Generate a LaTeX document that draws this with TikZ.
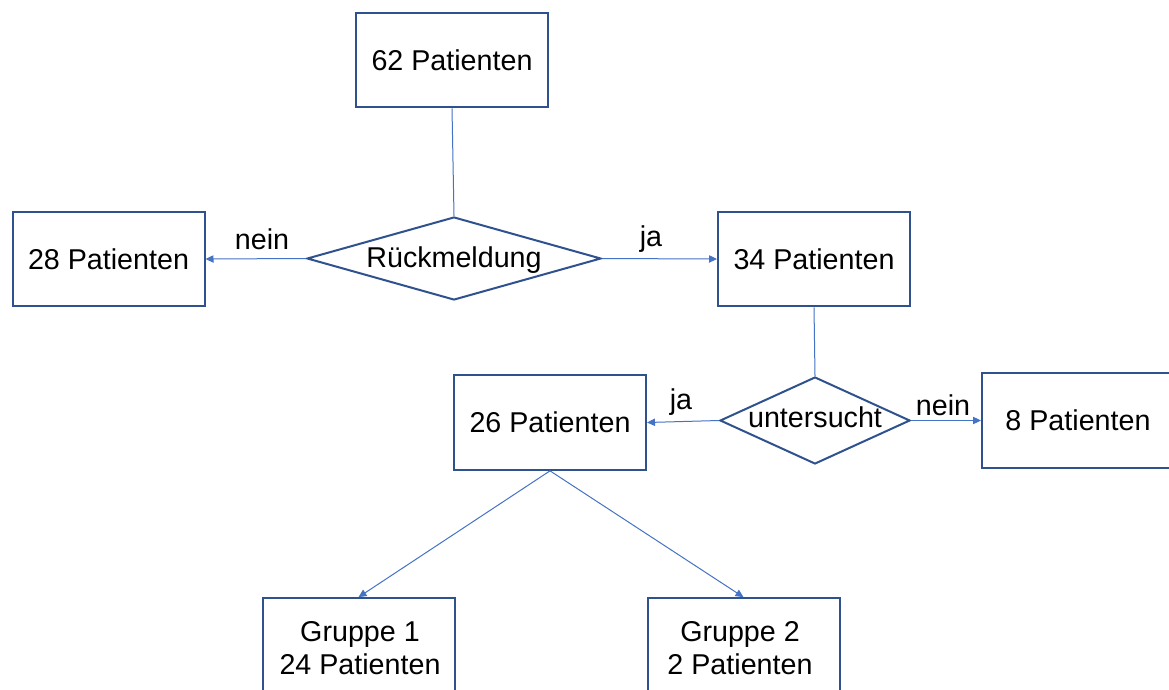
\documentclass[tikz,border=0pt]{standalone}
\usepackage{fontspec}
\setmainfont{Liberation Sans}
\usetikzlibrary{shapes.geometric,arrows.meta}
\definecolor{boxblue}{HTML}{2F528F}
\definecolor{linkblue}{HTML}{4472C4}
\begin{document}
\begin{tikzpicture}[x=0.75pt,y=-0.75pt,
  every node/.style={font=\fontsize{21.5}{24.75}\selectfont, text=black},
  box/.style={draw=boxblue, line width=1.5pt, fill=white, minimum width=144pt, minimum height=71pt, inner sep=0pt, align=center},
  choice/.style={draw=boxblue, line width=1.5pt, fill=white, diamond, inner sep=0pt},
  link/.style={draw=linkblue, line width=0.75pt},
  arrow/.style={link, -{Triangle[length=6pt,width=5.5pt]}},
  tag/.style={inner sep=0pt}]
  \useasboundingbox (0,0) rectangle (1169,689);
  \clip (0,0) rectangle (1169,689);

  % boxes
  \node[box] (p62) at (452,60) {62 Patienten};
  \node[box] (p28) at (108.5,259) {28 Patienten};
  \node[box] (p34) at (814,259) {34 Patienten};
  \node[box] (p26) at (550,422.5) {26 Patienten};
  \node[box] (p8) at (1078,420.5) {8 Patienten};
  \node[box] (g1) at (358.5,645.5) {};
  \node[box] (g2) at (743.5,645.5) {};
  \node[align=center] (g1t) at (360,648) {Gruppe 1\\24 Patienten};
  \node[align=center] (g2t) at (740,648) {Gruppe 2\\2 Patienten};

  % decisions: the label baseline is placed relative to the diamond centre
  \node[choice, minimum width=220.5pt, minimum height=62.25pt] (d1) at (454,258.5) {\makebox[0pt]{\smash{\raisebox{-7.1pt}{Rückmeldung}}}};
  \node[choice, minimum width=142.5pt, minimum height=65.25pt] (d2) at (815,420.5) {\makebox[0pt]{\smash{\raisebox{-5.2pt}{untersucht}}}};

  % connectors
  \draw[link] (p62.south) -- (d1.north);
  \draw[arrow] (d1.west) -- (p28.east);
  \draw[arrow] (d1.east) -- (p34.west);
  \draw[link] (p34.south) -- (d2.north);
  \draw[arrow] (d2.west) -- (p26.east);
  \draw[arrow] (d2.east) -- (p8.west);
  \draw[arrow] (p26.south) -- (g1.north);
  \draw[arrow] (p26.south) -- (g2.north);

  % branch labels
  \node[tag] (l1) at (262,239) {nein};
  \node[tag] (l2) at (651,239) {ja};
  \node[tag] (l3) at (681,402) {ja};
  \node[tag] (l4) at (943,405) {nein};
\end{tikzpicture}
\end{document}
